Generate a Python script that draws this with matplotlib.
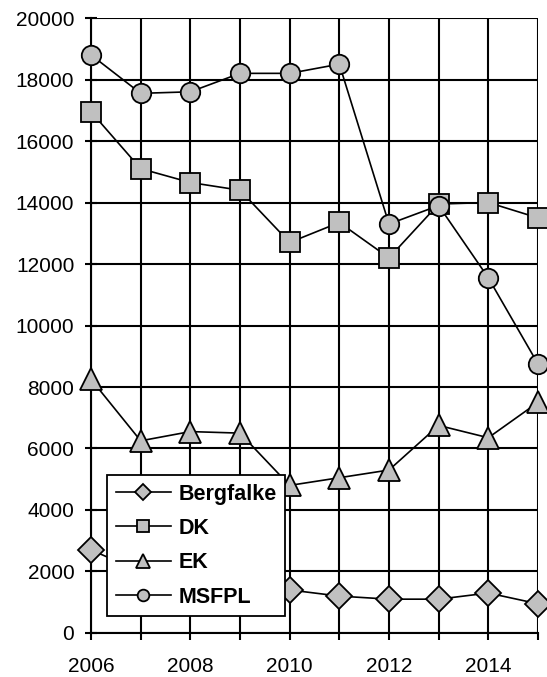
import matplotlib
matplotlib.use("Agg")
import matplotlib.pyplot as plt

plt.rcParams['font.family'] = ['Liberation Sans', 'DejaVu Sans']

years = [2006, 2007, 2008, 2009, 2010, 2011, 2012, 2013, 2014, 2015]
bergfalke = [2700, 2000, 1700, 1500, 1400, 1200, 1100, 1100, 1300, 950]
dk = [16950, 15100, 14650, 14400, 12700, 13350, 12200, 13950, 14000, 13500]
ek = [8250, 6250, 6550, 6500, 4800, 5050, 5300, 6750, 6350, 7500]
msfpl = [18800, 17550, 17600, 18200, 18200, 18500, 13300, 13900, 11550, 8750]

series = [("Bergfalke", bergfalke, "D", 13),
          ("DK", dk, "s", 14),
          ("EK", ek, "^", 16),
          ("MSFPL", msfpl, "o", 14)]

fig = plt.figure(figsize=(5.47, 6.77), dpi=100)
ax = fig.add_axes([0.1664, 0.065, 0.8171, 0.9084])

for name, vals, mk, ms in series:
    ax.plot(years, vals, color='black', lw=1.2, marker=mk, markersize=ms,
            markerfacecolor='#c0c0c0', markeredgecolor='black',
            markeredgewidth=1.3, label=name, clip_on=False, zorder=3)

ax.set_xlim(2006, 2015)
ax.set_ylim(0, 20000)
ax.set_xticks(range(2006, 2016, 2))
ax.set_xticks(years, minor=True)
ax.set_yticks(range(0, 20001, 2000))
ax.grid(True, which='both', color='black', lw=1.5)
ax.tick_params(axis='x', which='both', length=5, width=1.5, direction='out',
               pad=12, labelsize=15)
ax.tick_params(axis='y', length=8, width=1.5, direction='inout', pad=8,
               labelsize=15)
for s in ['top', 'right']:
    ax.spines[s].set_visible(False)
ax.spines['left'].set_linewidth(1.5)
ax.spines['bottom'].set_linewidth(1.5)

leg = ax.legend(loc='upper left', bbox_to_anchor=(0.036, 0.257),
                borderaxespad=0, fancybox=False, framealpha=1,
                edgecolor='black', handlelength=2.55, handletextpad=0.35,
                labelspacing=0.62, borderpad=0.4,
                prop={'weight': 'bold', 'size': 15.5}, markerscale=0.6)
leg.get_frame().set_linewidth(1.3)
leg.set_zorder(5)

fig.savefig("out.png", dpi=100)
